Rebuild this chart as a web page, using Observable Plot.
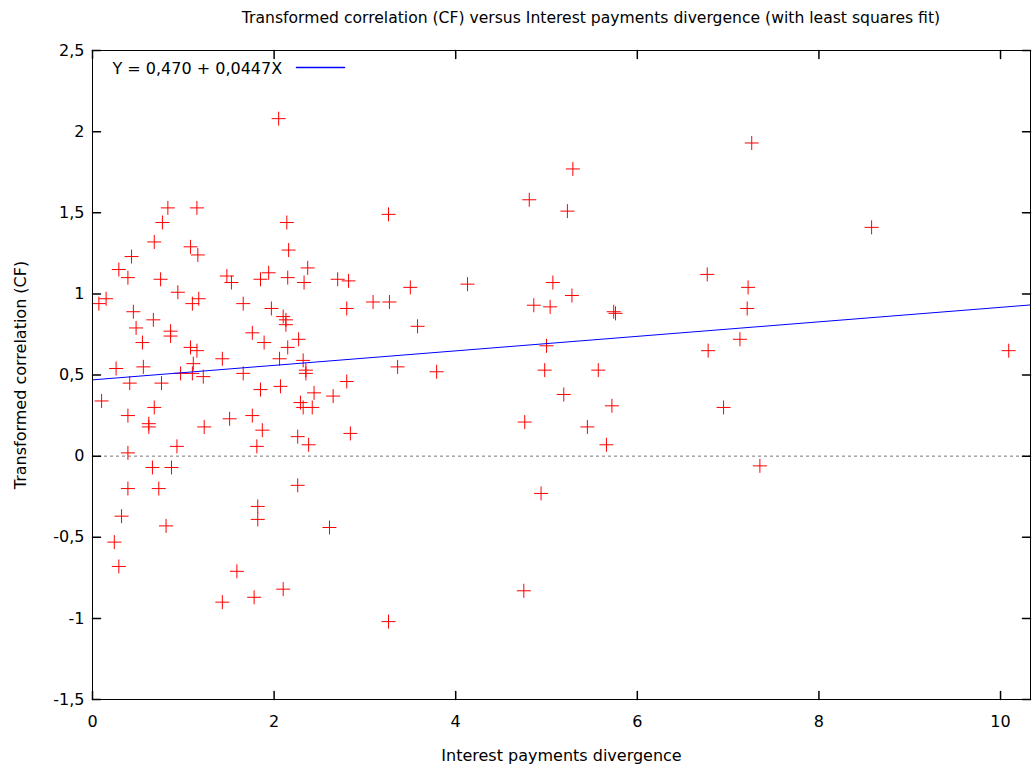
<!DOCTYPE html>
<html>
<head>
<meta charset="utf-8">
<script src="https://cdn.jsdelivr.net/npm/d3@7"></script>
<script src="https://cdn.jsdelivr.net/npm/@observablehq/plot@0.6"></script>
<style>
  html, body { margin: 0; padding: 0; background: #fff; }
  #wrap { width: 1036px; font-family: "DejaVu Sans", Verdana, sans-serif; }
  #title { position: relative; height: 36px; font-size: 15.6px; color: #000; }
  #title span { position: absolute; left: 591px; top: 9px; line-height: 18px; transform: translateX(-50%); white-space: nowrap; }
  svg { display: block; }
</style>
</head>
<body>
<div id="wrap">
  <div id="title"><span>Transformed correlation (CF) versus Interest payments divergence (with least squares fit)</span></div>
  <div id="chart"></div>
</div>
<script>
// Data
const interestDivergence = [
  0.07,0.15,0.10,0.26,0.29,0.24,0.29,0.32,0.39,0.43,0.39,0.39,0.39,0.41,0.45,0.48,0.55,0.56,0.62,0.62,
  0.66,0.68,0.67,0.68,0.73,0.77,0.75,0.76,0.83,0.81,0.86,0.86,0.87,0.94,0.93,0.97,1.08,1.08,1.10,1.15,
  1.11,1.15,1.16,1.10,1.17,1.22,1.23,
  1.43,1.43,1.48,1.51,1.53,1.59,1.66,1.66,1.76,1.78,1.76,1.82,1.82,1.81,1.85,1.87,1.89,1.85,1.94,1.97,
  2.05,2.06,2.07,2.10,2.13,2.13,2.14,2.16,2.15,2.37,2.33,2.70,2.82,2.80,2.27,2.15,2.32,2.35,2.35,2.80,
  2.44,2.65,2.29,2.32,2.42,2.84,2.26,2.38,2.26,2.61,2.10,3.09,3.27,3.26,3.36,3.26,
  3.50,3.58,3.79,4.13,4.81,5.29,5.23,5.07,5.28,4.86,5.04,5.74,5.76,5.00,4.98,5.57,5.19,5.72,4.76,5.45,
  5.66,4.94,4.75,7.26,8.58,6.77,7.22,7.21,7.13,6.78,10.09,6.95,7.35
];
const transformedCorrelation = [
  0.94,0.97,0.34,0.54,1.15,-0.53,-0.68,-0.37,1.10,1.23,0.25,0.02,-0.20,0.45,0.89,0.79,0.70,0.55,0.20,0.18,
  -0.07,1.32,0.84,0.30,-0.20,1.44,1.09,0.45,1.53,-0.43,0.77,0.74,-0.07,1.01,0.06,0.51,1.29,0.67,0.94,0.65,
  0.57,1.53,1.24,0.51,0.97,0.49,0.18,
  0.60,-0.90,1.11,0.23,1.07,-0.71,0.94,0.51,0.76,-0.87,0.25,-0.31,-0.39,0.06,0.41,0.16,0.70,1.09,1.13,0.91,
  2.08,0.60,0.43,0.86,0.84,0.81,1.44,1.27,1.10,1.16,1.07,1.09,1.08,0.91,0.72,0.67,0.59,0.53,0.51,0.46,
  0.39,0.37,0.33,0.30,0.30,0.14,0.12,0.07,-0.18,-0.44,-0.82,0.95,0.95,1.49,0.55,-1.02,
  1.04,0.80,0.52,1.06,1.58,1.77,1.51,1.07,0.99,0.93,0.92,0.89,0.88,0.68,0.53,0.53,0.38,0.31,0.21,0.18,
  0.07,-0.23,-0.83,1.93,1.41,1.12,1.04,0.91,0.72,0.65,0.65,0.30,-0.06
];
const fitIntercept = 0.470;
const fitSlope = 0.0447;
const xTicks = [0, 2, 4, 6, 8, 10];
const yTicks = [-1.5, -1, -0.5, 0, 0.5, 1, 1.5, 2, 2.5];
const xDomain = [0, 10.33];
const yDomain = [-1.5, 2.5];
const titleText = "Transformed correlation (CF) versus Interest payments divergence (with least squares fit)";
const xLabel = "Interest payments divergence";
const yLabel = "Transformed correlation (CF)";
const legendText = "Y = 0,470 + 0,0447X";

const points = interestDivergence.map((x, i) => ({x, y: transformedCorrelation[i]}));
const fitLine = xDomain.map(x => ({x, y: fitIntercept + fitSlope * x}));
const fmt = d => String(d).replace(".", ",");

const plusSymbol = {
  draw(context, size) {
    const r = Math.sqrt(size / Math.PI);
    context.moveTo(-r, 0); context.lineTo(r, 0);
    context.moveTo(0, -r); context.lineTo(0, r);
  }
};
const lineShape = { draw(context, l) { context.moveTo(0, 0); context.lineTo(0, -l); } };

const chart = Plot.plot({
  width: 1036,
  height: 731,
  marginTop: 14,
  marginBottom: 68,
  marginLeft: 92,
  marginRight: 6,
  style: { fontFamily: '"DejaVu Sans", Verdana, sans-serif', fontSize: "16px", color: "#000", background: "#fff" },
  x: { domain: xDomain, label: null },
  y: { domain: yDomain, label: null },
  marks: [
    Plot.ruleY([0], { stroke: "#777", strokeWidth: 1, strokeDasharray: "3,3" }),
    Plot.dot(points, { x: "x", y: "y", symbol: plusSymbol, r: 7, stroke: "#ff0000", fill: "none", strokeWidth: 1 }),
    Plot.line(fitLine, { x: "x", y: "y", stroke: "#0000ff", strokeWidth: 1 }),
    Plot.axisX({ ticks: xTicks, tickSize: 0, tickPadding: 16, tickFormat: fmt, label: null, fontSize: 16 }),
    Plot.axisY({ ticks: yTicks, tickSize: 0, tickPadding: 8, tickFormat: fmt, label: null, fontSize: 16 }),
    // inward ticks on all four sides
    Plot.vector(yTicks, { x: xDomain[0], y: d => d, length: 8, rotate: 90, anchor: "start", shape: lineShape, stroke: "#000" }),
    Plot.vector(yTicks, { x: xDomain[1], y: d => d, length: 8, rotate: -90, anchor: "start", shape: lineShape, stroke: "#000" }),
    Plot.vector(xTicks, { x: d => d, y: yDomain[0], length: 8, rotate: 0, anchor: "start", shape: lineShape, stroke: "#000" }),
    Plot.vector(xTicks, { x: d => d, y: yDomain[1], length: 8, rotate: 180, anchor: "start", shape: lineShape, stroke: "#000" }),
    Plot.frame({ stroke: "#000", strokeWidth: 1 }),
    Plot.text([xLabel], { text: d => d, frameAnchor: "bottom", dy: 56, textAnchor: "middle", lineAnchor: "middle", fill: "#000", fontSize: 16 }),
    Plot.text([yLabel], { text: d => d, frameAnchor: "left", dx: -72, rotate: -90, textAnchor: "middle", lineAnchor: "middle", fill: "#000", fontSize: 16 }),
    Plot.text([legendText], { text: d => d, frameAnchor: "top-left", dx: 20, dy: 18, textAnchor: "start", lineAnchor: "middle", fill: "#000", fontSize: 16 }),
    Plot.vector([legendText], { frameAnchor: "top-left", dx: 204, dy: 17, length: 48, rotate: 90, anchor: "start", shape: lineShape, stroke: "#0000ff" })
  ]
});
document.getElementById("chart").appendChild(chart);
</script>
</body>
</html>
